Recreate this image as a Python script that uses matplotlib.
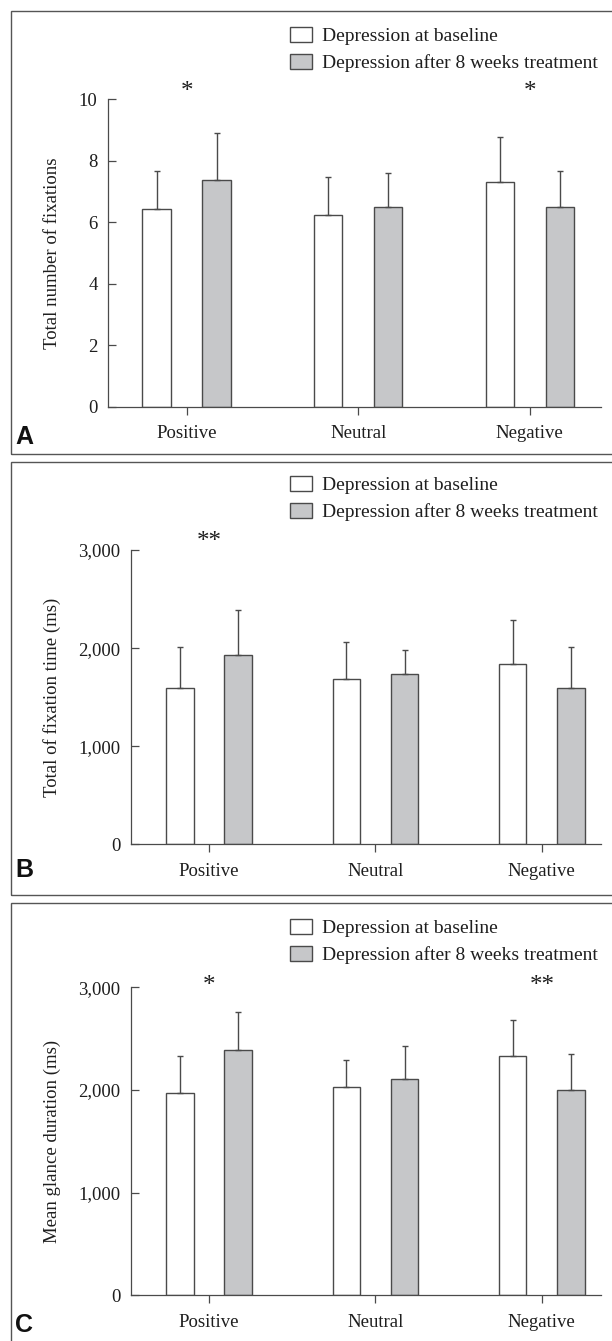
import numpy as np
import matplotlib
matplotlib.use("Agg")
import matplotlib.pyplot as plt
from matplotlib.patches import Rectangle
from matplotlib.ticker import StrMethodFormatter

plt.rcParams['font.family'] = ['Liberation Serif', 'DejaVu Serif']

W, H = 612, 1341

categories = ["Positive", "Neutral", "Negative"]
series_labels = ["Depression at baseline", "Depression after 8 weeks treatment"]

# panel A: total number of fixations
fix_base = [6.42, 6.25, 7.32]
fix_base_sd = [1.25, 1.23, 1.46]
fix_treat = [7.37, 6.49, 6.49]
fix_treat_sd = [1.52, 1.12, 1.18]
fix_stars = ["*", "", "*"]

# panel B: total fixation time (ms)
time_base = [1590, 1685, 1840]
time_base_sd = [425, 375, 450]
time_treat = [1925, 1735, 1590]
time_treat_sd = [460, 245, 425]
time_stars = ["**", "", ""]

# panel C: mean glance duration (ms)
glance_base = [1970, 2030, 2335]
glance_base_sd = [365, 265, 350]
glance_treat = [2385, 2110, 1995]
glance_treat_sd = [370, 315, 355]
glance_stars = ["*", "", "**"]

EDGE = '#4a4a4a'
GRAY = '#c6c7c9'
TXT = '#1e1e1e'


def px_axes(left, top, right, bottom):
    return [left / W, 1 - bottom / H, (right - left) / W, (bottom - top) / H]


def panel(box, rect, xlim, ylim, yticks, ylabel, base, base_sd, treat, treat_sd,
          stars, star_y, letter, letter_y, legend_top, fmt=None):
    # panel frame
    top, bottom = box
    fig.add_artist(Rectangle((11 / W, 1 - bottom / H), 1.0, (bottom - top) / H,
                             transform=fig.transFigure, fill=False,
                             edgecolor='#555555', linewidth=1.0))
    ax = fig.add_axes(px_axes(*rect))
    x = np.arange(len(categories))
    w = 0.166
    off = 0.175
    b1 = ax.bar(x - off, base, w, color='white', edgecolor=EDGE, linewidth=1.0,
                yerr=[np.zeros(3), base_sd], capsize=2.5,
                error_kw=dict(ecolor=EDGE, elinewidth=1.0, capthick=1.0),
                label=series_labels[0], zorder=2)
    b2 = ax.bar(x + off, treat, w, color=GRAY, edgecolor=EDGE, linewidth=1.0,
                yerr=[np.zeros(3), treat_sd], capsize=2.5,
                error_kw=dict(ecolor=EDGE, elinewidth=1.0, capthick=1.0),
                label=series_labels[1], zorder=2)
    ax.set_xlim(*xlim)
    ax.set_ylim(*ylim)
    ax.set_yticks(yticks)
    if fmt:
        ax.yaxis.set_major_formatter(StrMethodFormatter(fmt))
    ax.set_xticks(x)
    ax.set_xticklabels(categories)
    for s in ['top', 'right']:
        ax.spines[s].set_visible(False)
    for s in ['left', 'bottom']:
        ax.spines[s].set_color(EDGE)
        ax.spines[s].set_linewidth(0.9)
    ax.tick_params(axis='both', colors=EDGE, labelcolor=TXT, labelsize=13.5,
                   length=5.5, width=0.9)
    ax.tick_params(axis='y', direction='in', pad=7.5)
    ax.tick_params(axis='x', direction='out', pad=8)
    ax.set_ylabel(ylabel, fontsize=13.5, color=TXT)
    lx = (61 - rect[0]) / (rect[2] - rect[0])
    ax.yaxis.set_label_coords(lx, 0.5)
    for xi, s in zip(x, stars):
        if s:
            ax.text(xi, star_y, s, ha='center', va='baseline', fontsize=18,
                    color=TXT, clip_on=False)
    ax.legend([b1, b2], series_labels, loc='upper left',
              bbox_to_anchor=(290 / W, 1 - legend_top / H),
              bbox_transform=fig.transFigure, frameon=False, fontsize=14,
              borderpad=0, borderaxespad=0, handlelength=1.13,
              handleheight=0.82, handletextpad=0.52, labelspacing=0.45,
              labelcolor=TXT)
    fig.text(15 / W, 1 - letter_y / H, letter, fontsize=18,
             fontweight='bold', family='Liberation Sans', color='#111111',
             ha='left', va='center')
    return ax


fig = plt.figure(figsize=(W / 100, H / 100), dpi=100)

panel((11, 454), (108, 99.3, 601, 406.7), (-0.458, 2.415), (0, 10),
      [0, 2, 4, 6, 8, 10], "Total number of fixations",
      fix_base, fix_base_sd, fix_treat, fix_treat_sd, fix_stars, 10.05, "A", 437, 27)

panel((462.5, 894.7), (130.8, 550, 601, 844.3), (-0.471, 2.356), (0, 3000),
      [0, 1000, 2000, 3000], "Total of fixation time (ms)",
      time_base, time_base_sd, time_treat, time_treat_sd, time_stars, 3020, "B",
      870, 476, fmt='{x:,.0f}')

panel((903, 1400), (130.8, 987.3, 601, 1295.3), (-0.471, 2.356), (0, 3000),
      [0, 1000, 2000, 3000], "Mean glance duration (ms)",
      glance_base, glance_base_sd, glance_treat, glance_treat_sd, glance_stars,
      2950, "C", 1325, 919, fmt='{x:,.0f}')

fig.savefig("out.png", dpi=100)
